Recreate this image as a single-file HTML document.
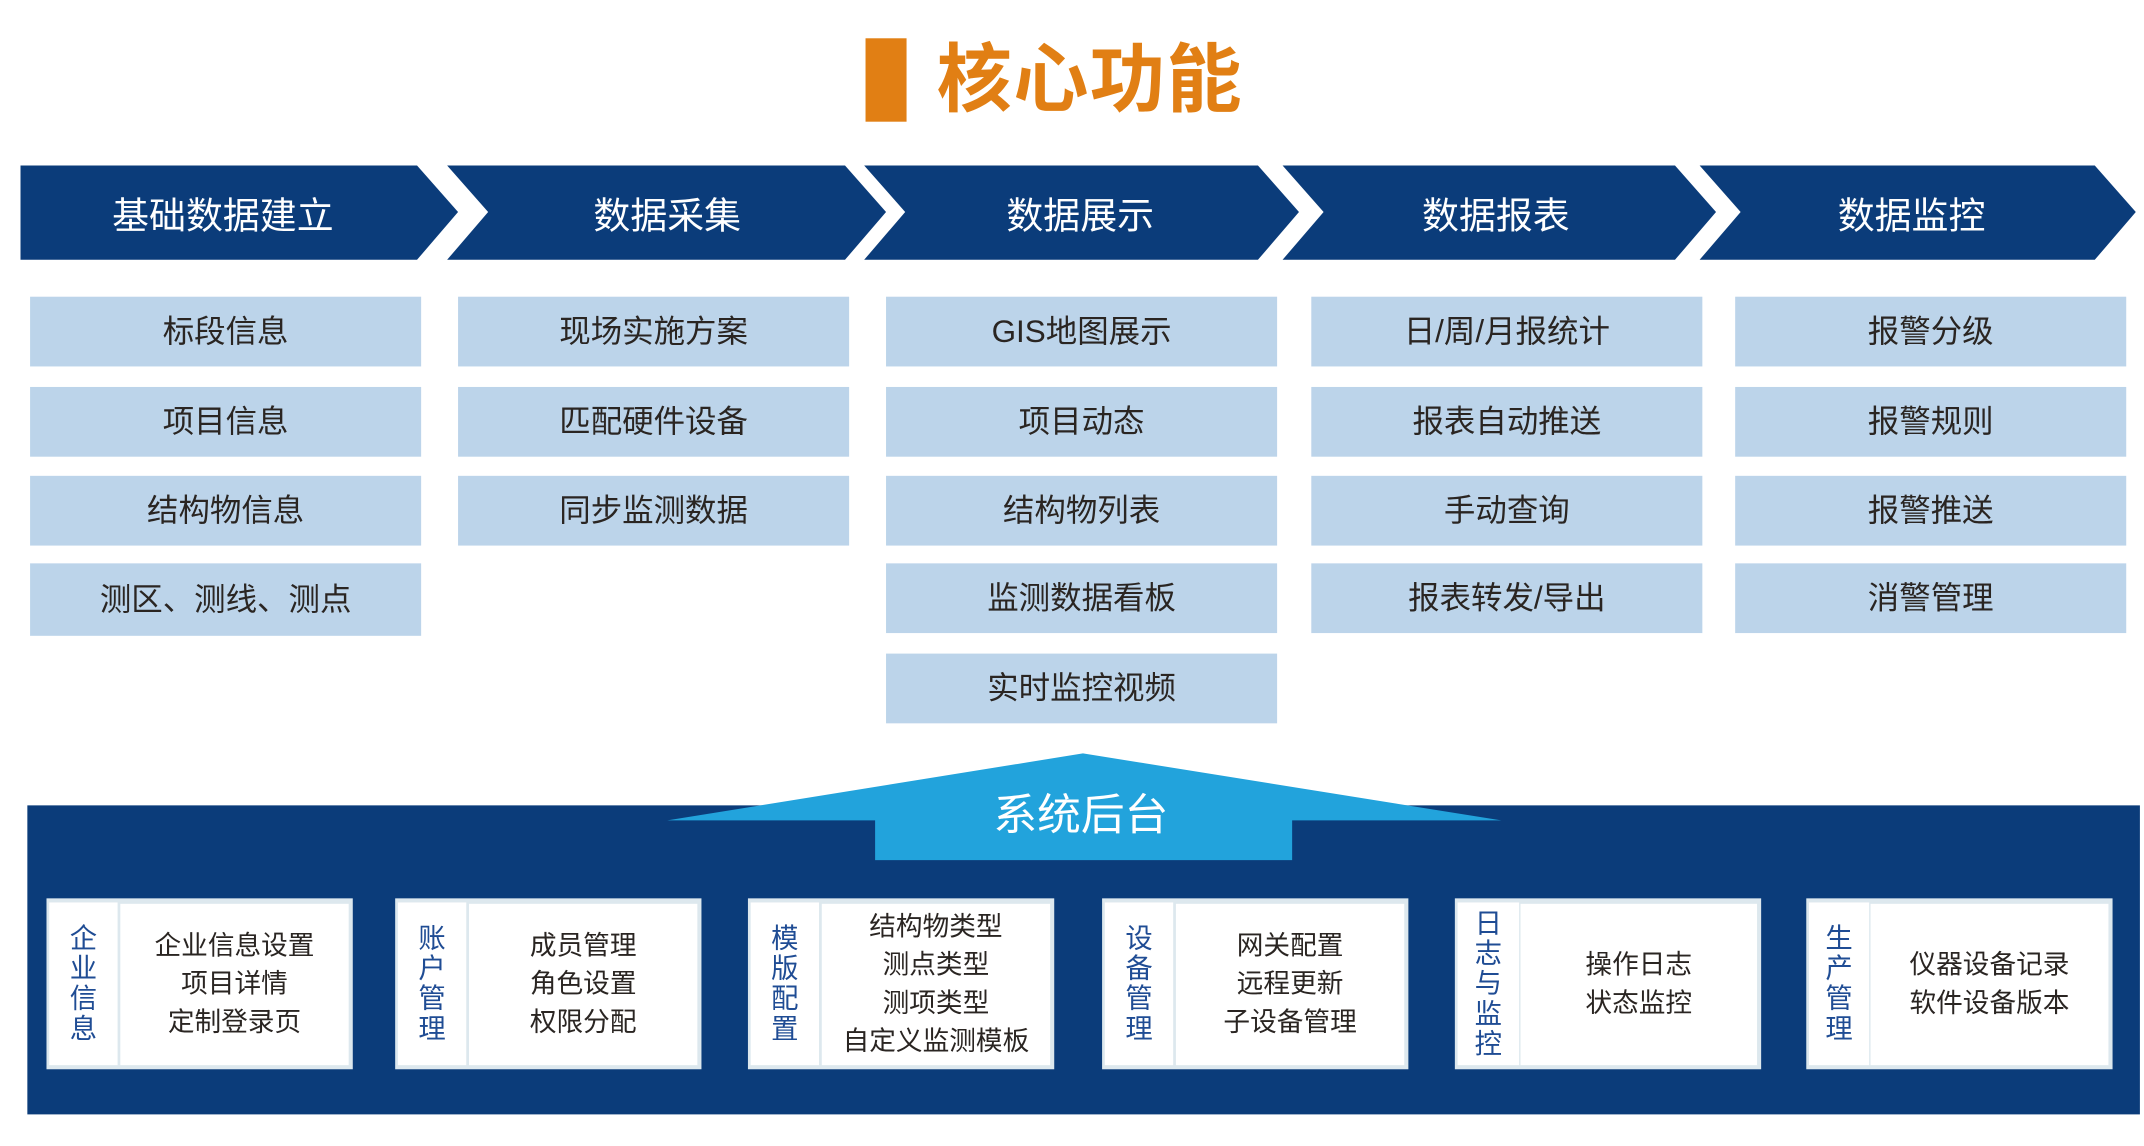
<!DOCTYPE html>
<html><head><meta charset="utf-8">
<style>
html,body{margin:0;padding:0;background:#fff;}
body{width:2144px;height:1146px;overflow:hidden;}
#s{position:absolute;left:0;top:0;width:1568px;height:838px;transform:scale(1.36735);transform-origin:0 0;font-family:"Liberation Sans","Noto Sans CJK SC",sans-serif;}
.a{position:absolute;}
.b{position:absolute;background:#bcd4ea;height:51px;width:286px;color:#2a2522;font-size:23px;line-height:51px;text-align:center;}
.ct{position:absolute;color:#fff;font-size:27px;top:124px;height:69px;line-height:69px;text-align:center;}
.card{position:absolute;top:657px;height:125px;width:224px;background:#dde8ee;}
.card .l{position:absolute;left:2px;top:3px;bottom:3px;width:50px;background:#fff;color:#1f4c94;font-size:20px;line-height:22px;display:flex;align-items:center;justify-content:center;text-align:center;}
.card .r{position:absolute;left:54px;top:4px;right:3px;bottom:3px;background:#fff;color:#2a2522;font-size:19.5px;line-height:28px;display:flex;align-items:center;justify-content:center;text-align:center;}
</style></head><body><div id="s">
<div class="a" style="left:633px;top:28px;width:30px;height:61px;background:#e17f14"></div>
<div class="a" style="left:685px;top:25px;font-size:55px;font-weight:bold;color:#e17f14;line-height:66px;letter-spacing:1px">核心功能</div>
<svg class="a" style="left:0;top:0" width="1568" height="200">
<g fill="#0b3c7a">
<polygon points="15,121 305,121 335,155 305,190 15,190"/>
<polygon points="327,121 618,121 648,155 618,190 327,190 357,155"/>
<polygon points="632,121 920,121 950,155 920,190 632,190 662,155"/>
<polygon points="938,121 1225,121 1255,155 1225,190 938,190 968,155"/>
<polygon points="1243,121 1532,121 1562,155 1532,190 1243,190 1273,155"/>
</g></svg>
<div class="ct" style="left:15px;width:296px">基础数据建立</div>
<div class="ct" style="left:340px;width:296px">数据采集</div>
<div class="ct" style="left:642px;width:296px">数据展示</div>
<div class="ct" style="left:946px;width:296px">数据报表</div>
<div class="ct" style="left:1250px;width:296px">数据监控</div>

<div class="b" style="left:22px;top:217px">标段信息</div>
<div class="b" style="left:22px;top:283px">项目信息</div>
<div class="b" style="left:22px;top:348px">结构物信息</div>
<div class="b" style="left:22px;top:412px;height:53px;line-height:53px">测区、测线、测点</div>
<div class="b" style="left:335px;top:217px">现场实施方案</div>
<div class="b" style="left:335px;top:283px">匹配硬件设备</div>
<div class="b" style="left:335px;top:348px">同步监测数据</div>
<div class="b" style="left:648px;top:217px">GIS地图展示</div>
<div class="b" style="left:648px;top:283px">项目动态</div>
<div class="b" style="left:648px;top:348px">结构物列表</div>
<div class="b" style="left:648px;top:412px">监测数据看板</div>
<div class="b" style="left:648px;top:478px">实时监控视频</div>
<div class="b" style="left:959px;top:217px">日/周/月报统计</div>
<div class="b" style="left:959px;top:283px">报表自动推送</div>
<div class="b" style="left:959px;top:348px">手动查询</div>
<div class="b" style="left:959px;top:412px">报表转发/导出</div>
<div class="b" style="left:1269px;top:217px">报警分级</div>
<div class="b" style="left:1269px;top:283px">报警规则</div>
<div class="b" style="left:1269px;top:348px">报警推送</div>
<div class="b" style="left:1269px;top:412px">消警管理</div>

<div class="a" style="left:20px;top:589px;width:1545px;height:226px;background:#0b3c7a"></div>
<svg class="a" style="left:0;top:540px" width="1568" height="100">
<polygon fill="#22a3dc" points="792,11 1098,60 945,60 945,89 640,89 640,60 488,60"/>
</svg>
<div class="a" style="left:638px;top:574px;width:305px;text-align:center;color:#fff;font-size:32px;line-height:44px">系统后台</div>

<div class="card" style="left:34px"><div class="l">企<br>业<br>信<br>息</div><div class="r">企业信息设置<br>项目详情<br>定制登录页</div></div>
<div class="card" style="left:289px"><div class="l">账<br>户<br>管<br>理</div><div class="r">成员管理<br>角色设置<br>权限分配</div></div>
<div class="card" style="left:547px"><div class="l">模<br>版<br>配<br>置</div><div class="r">结构物类型<br>测点类型<br>测项类型<br>自定义监测模板</div></div>
<div class="card" style="left:806px"><div class="l">设<br>备<br>管<br>理</div><div class="r">网关配置<br>远程更新<br>子设备管理</div></div>
<div class="card" style="left:1064px"><div class="l" style="width:45px">日<br>志<br>与<br>监<br>控</div><div class="r" style="left:48px">操作日志<br>状态监控</div></div>
<div class="card" style="left:1321px"><div class="l" style="width:44px">生<br>产<br>管<br>理</div><div class="r" style="left:47px">仪器设备记录<br>软件设备版本</div></div>
</div></body></html>
